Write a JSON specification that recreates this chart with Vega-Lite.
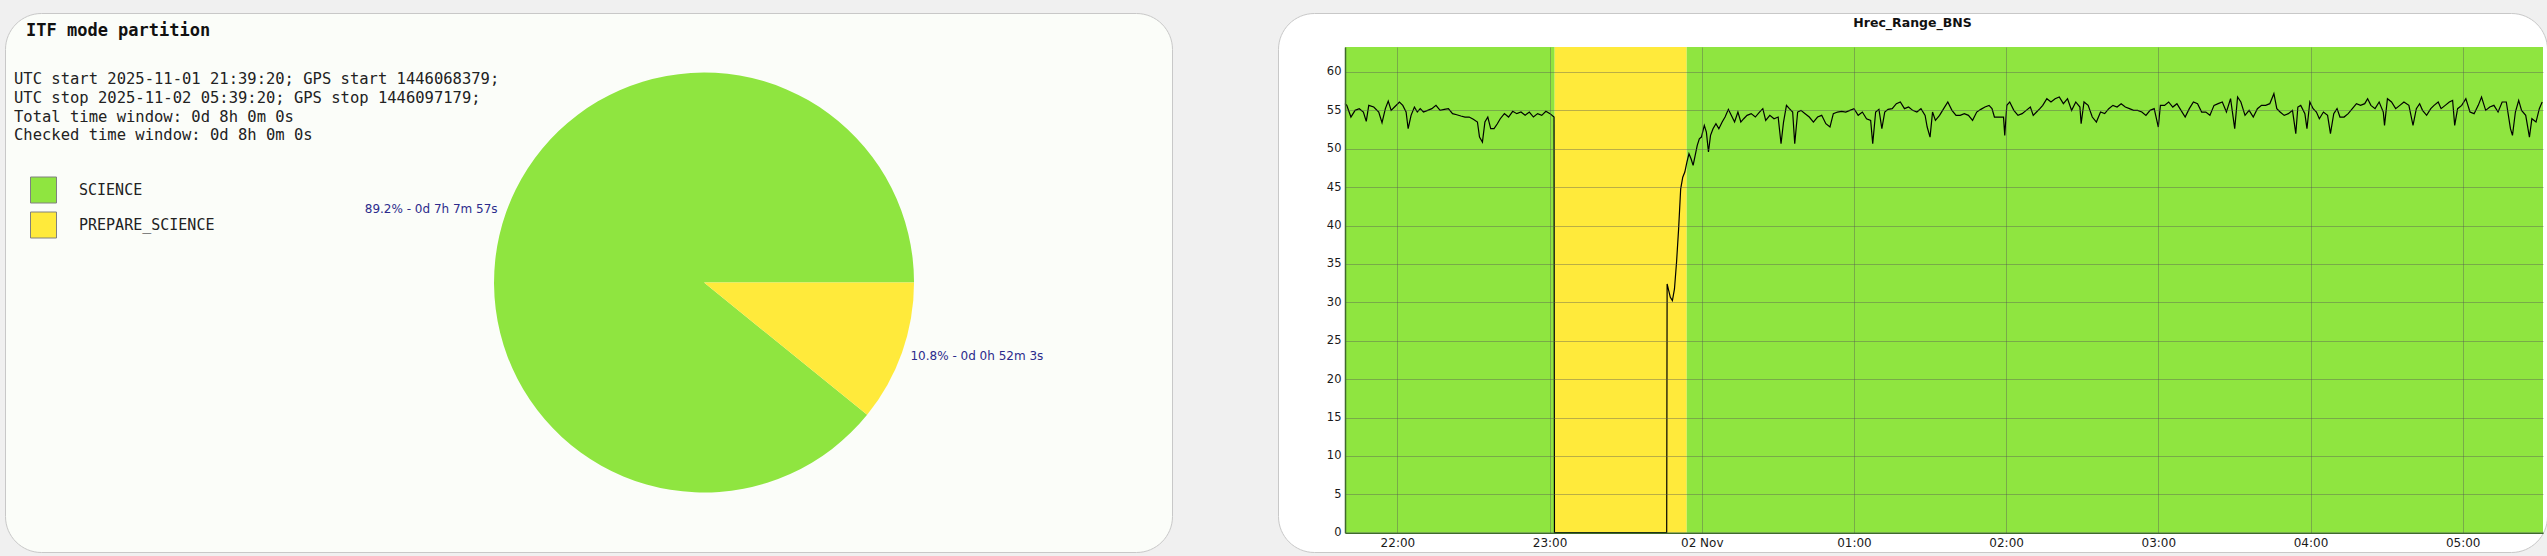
{
  "$schema": "https://vega.github.io/schema/vega-lite/v6.json",
  "background": "#f0f0f0",
  "padding": {"left": 4, "top": 12, "right": 1, "bottom": 5},
  "bounds": "flush",
  "spacing": 106,
  "config": {"font": "DejaVu Sans", "view": {"stroke": null}},
  "resolve": {"scale": {"color": "independent"}, "legend": {"color": "independent"}},
  "datasets": {
    "pie": [
      {"mode": "SCIENCE", "secs": 25677, "label": "89.2% - 0d 7h 7m 57s"},
      {"mode": "PREPARE_SCIENCE", "secs": 3123, "label": "10.8% - 0d 0h 52m 3s"}
    ],
    "bands": [
      {"mode": "SCIENCE", "start": 1762033160000, "end": 1762038120000},
      {"mode": "PREPARE_SCIENCE", "start": 1762038120000, "end": 1762041243000},
      {"mode": "SCIENCE", "start": 1762041243000, "end": 1762061500000}
    ],
    "bns": [
      {"t":1762033160000,"v":55.87},{"t":1762033202000,"v":55.65},{"t":1762033300000,"v":54.13},{"t":1762033399000,"v":55.0},
      {"t":1762033497000,"v":55.22},{"t":1762033595000,"v":54.78},{"t":1762033663000,"v":53.57},{"t":1762033722000,"v":55.65},
      {"t":1762033840000,"v":55.43},{"t":1762033958000,"v":54.78},{"t":1762034036000,"v":53.39},{"t":1762034115000,"v":55.22},
      {"t":1762034183000,"v":56.22},{"t":1762034252000,"v":55.0},{"t":1762034331000,"v":55.43},{"t":1762034448000,"v":56.09},
      {"t":1762034527000,"v":55.65},{"t":1762034605000,"v":54.78},{"t":1762034654000,"v":52.61},{"t":1762034723000,"v":54.35},
      {"t":1762034802000,"v":55.43},{"t":1762034870000,"v":54.78},{"t":1762034939000,"v":55.22},{"t":1762035017000,"v":54.78},
      {"t":1762035116000,"v":55.0},{"t":1762035214000,"v":55.22},{"t":1762035312000,"v":55.65},{"t":1762035410000,"v":55.0},
      {"t":1762035508000,"v":55.13},{"t":1762035606000,"v":55.22},{"t":1762035704000,"v":54.57},{"t":1762035802000,"v":54.43},
      {"t":1762035901000,"v":54.26},{"t":1762035999000,"v":54.13},{"t":1762036097000,"v":54.13},{"t":1762036195000,"v":53.83},
      {"t":1762036293000,"v":53.48},{"t":1762036342000,"v":51.52},{"t":1762036411000,"v":50.87},{"t":1762036470000,"v":53.48},
      {"t":1762036538000,"v":54.13},{"t":1762036607000,"v":52.61},{"t":1762036686000,"v":52.61},{"t":1762036764000,"v":53.26},
      {"t":1762036833000,"v":53.91},{"t":1762036931000,"v":54.57},{"t":1762037029000,"v":54.13},{"t":1762037127000,"v":54.87},
      {"t":1762037225000,"v":54.57},{"t":1762037323000,"v":54.78},{"t":1762037421000,"v":54.35},{"t":1762037520000,"v":54.78},
      {"t":1762037618000,"v":54.13},{"t":1762037716000,"v":54.57},{"t":1762037814000,"v":54.35},{"t":1762037912000,"v":54.87},
      {"t":1762038010000,"v":54.57},{"t":1762038105000,"v":54.13},{"t":1762038115000,"v":0},{"t":1762040770000,"v":0},
      {"t":1762040780000,"v":32.4},{"t":1762040856000,"v":30.65},{"t":1762040905000,"v":30.22},{"t":1762040954000,"v":31.74},
      {"t":1762041003000,"v":35.22},{"t":1762041052000,"v":39.57},{"t":1762041101000,"v":44.78},{"t":1762041150000,"v":46.3},
      {"t":1762041199000,"v":46.96},{"t":1762041248000,"v":48.26},{"t":1762041297000,"v":49.35},{"t":1762041346000,"v":48.7},
      {"t":1762041395000,"v":47.83},{"t":1762041444000,"v":49.13},{"t":1762041493000,"v":50.43},{"t":1762041542000,"v":51.3},
      {"t":1762041591000,"v":51.52},{"t":1762041660000,"v":53.04},{"t":1762041709000,"v":52.17},{"t":1762041758000,"v":49.57},
      {"t":1762041807000,"v":51.74},{"t":1762041866000,"v":52.61},{"t":1762041935000,"v":53.26},{"t":1762042004000,"v":52.61},
      {"t":1762042082000,"v":53.48},{"t":1762042151000,"v":54.13},{"t":1762042229000,"v":55.13},{"t":1762042298000,"v":54.35},
      {"t":1762042376000,"v":53.48},{"t":1762042455000,"v":54.78},{"t":1762042524000,"v":53.48},{"t":1762042592000,"v":53.91},
      {"t":1762042671000,"v":54.35},{"t":1762042769000,"v":54.57},{"t":1762042867000,"v":54.13},{"t":1762042965000,"v":54.78},
      {"t":1762043044000,"v":55.22},{"t":1762043112000,"v":53.7},{"t":1762043210000,"v":54.35},{"t":1762043309000,"v":53.91},
      {"t":1762043407000,"v":54.13},{"t":1762043475000,"v":50.65},{"t":1762043534000,"v":53.48},{"t":1762043603000,"v":55.65},
      {"t":1762043672000,"v":55.22},{"t":1762043750000,"v":54.78},{"t":1762043799000,"v":50.65},{"t":1762043868000,"v":54.78},
      {"t":1762043946000,"v":55.0},{"t":1762044045000,"v":54.57},{"t":1762044143000,"v":54.13},{"t":1762044241000,"v":53.48},
      {"t":1762044339000,"v":54.13},{"t":1762044437000,"v":54.35},{"t":1762044535000,"v":53.26},{"t":1762044633000,"v":52.83},
      {"t":1762044712000,"v":54.57},{"t":1762044810000,"v":54.78},{"t":1762044908000,"v":54.87},{"t":1762045006000,"v":54.78},
      {"t":1762045104000,"v":55.0},{"t":1762045202000,"v":55.22},{"t":1762045300000,"v":54.35},{"t":1762045399000,"v":54.78},
      {"t":1762045497000,"v":53.91},{"t":1762045595000,"v":53.7},{"t":1762045644000,"v":50.65},{"t":1762045713000,"v":54.78},
      {"t":1762045791000,"v":55.13},{"t":1762045860000,"v":52.61},{"t":1762045928000,"v":54.78},{"t":1762046007000,"v":55.13},
      {"t":1762046105000,"v":55.22},{"t":1762046203000,"v":55.87},{"t":1762046297000,"v":56.09},{"t":1762046395000,"v":55.22},
      {"t":1762046492000,"v":55.43},{"t":1762046590000,"v":55.0},{"t":1762046688000,"v":54.78},{"t":1762046785000,"v":55.22},
      {"t":1762046883000,"v":54.35},{"t":1762046932000,"v":52.83},{"t":1762047000000,"v":51.52},{"t":1762047059000,"v":54.78},
      {"t":1762047127000,"v":53.7},{"t":1762047225000,"v":54.35},{"t":1762047322000,"v":55.22},{"t":1762047420000,"v":56.09},
      {"t":1762047518000,"v":55.0},{"t":1762047615000,"v":54.35},{"t":1762047713000,"v":54.35},{"t":1762047811000,"v":54.57},
      {"t":1762047908000,"v":54.35},{"t":1762048006000,"v":53.7},{"t":1762048104000,"v":54.78},{"t":1762048201000,"v":55.13},
      {"t":1762048299000,"v":55.43},{"t":1762048396000,"v":55.65},{"t":1762048465000,"v":55.22},{"t":1762048523000,"v":54.13},
      {"t":1762048641000,"v":54.13},{"t":1762048738000,"v":54.13},{"t":1762048767000,"v":51.74},{"t":1762048816000,"v":55.65},
      {"t":1762048885000,"v":56.09},{"t":1762048982000,"v":55.0},{"t":1762049080000,"v":54.35},{"t":1762049178000,"v":54.57},
      {"t":1762049275000,"v":55.0},{"t":1762049373000,"v":55.43},{"t":1762049441000,"v":54.35},{"t":1762049519000,"v":54.78},
      {"t":1762049598000,"v":55.22},{"t":1762049666000,"v":55.65},{"t":1762049763000,"v":56.52},{"t":1762049861000,"v":56.09},
      {"t":1762049959000,"v":56.52},{"t":1762050057000,"v":56.74},{"t":1762050154000,"v":55.87},{"t":1762050252000,"v":56.52},
      {"t":1762050349000,"v":55.0},{"t":1762050447000,"v":56.09},{"t":1762050545000,"v":55.43},{"t":1762050574000,"v":53.26},
      {"t":1762050642000,"v":56.09},{"t":1762050740000,"v":55.65},{"t":1762050838000,"v":54.13},{"t":1762050935000,"v":53.48},
      {"t":1762051033000,"v":54.78},{"t":1762051131000,"v":54.57},{"t":1762051228000,"v":55.22},{"t":1762051326000,"v":55.65},
      {"t":1762051424000,"v":55.43},{"t":1762051521000,"v":55.87},{"t":1762051619000,"v":55.43},{"t":1762051717000,"v":55.22},
      {"t":1762051814000,"v":55.0},{"t":1762051912000,"v":55.0},{"t":1762052010000,"v":54.78},{"t":1762052107000,"v":54.35},
      {"t":1762052205000,"v":55.0},{"t":1762052302000,"v":55.22},{"t":1762052400000,"v":52.83},{"t":1762052449000,"v":55.65},
      {"t":1762052547000,"v":55.65},{"t":1762052644000,"v":56.09},{"t":1762052742000,"v":55.43},{"t":1762052840000,"v":55.87},
      {"t":1762052937000,"v":55.0},{"t":1762053035000,"v":54.13},{"t":1762053133000,"v":55.22},{"t":1762053230000,"v":56.09},
      {"t":1762053328000,"v":55.87},{"t":1762053425000,"v":54.78},{"t":1762053523000,"v":54.78},{"t":1762053621000,"v":54.35},
      {"t":1762053718000,"v":55.65},{"t":1762053816000,"v":55.87},{"t":1762053914000,"v":56.09},{"t":1762054011000,"v":54.78},
      {"t":1762054109000,"v":56.52},{"t":1762054207000,"v":52.61},{"t":1762054275000,"v":56.74},{"t":1762054353000,"v":56.09},
      {"t":1762054451000,"v":54.35},{"t":1762054548000,"v":55.0},{"t":1762054646000,"v":54.13},{"t":1762054744000,"v":55.22},
      {"t":1762054841000,"v":55.65},{"t":1762054939000,"v":55.65},{"t":1762055037000,"v":55.87},{"t":1762055134000,"v":57.17},
      {"t":1762055203000,"v":55.22},{"t":1762055281000,"v":54.78},{"t":1762055378000,"v":54.35},{"t":1762055476000,"v":54.57},
      {"t":1762055574000,"v":55.0},{"t":1762055652000,"v":51.96},{"t":1762055701000,"v":55.43},{"t":1762055769000,"v":55.65},
      {"t":1762055867000,"v":54.57},{"t":1762055916000,"v":52.61},{"t":1762055984000,"v":56.09},{"t":1762056062000,"v":55.22},
      {"t":1762056140000,"v":54.78},{"t":1762056209000,"v":53.91},{"t":1762056306000,"v":54.78},{"t":1762056404000,"v":54.35},
      {"t":1762056472000,"v":51.96},{"t":1762056550000,"v":54.57},{"t":1762056628000,"v":55.22},{"t":1762056697000,"v":54.13},
      {"t":1762056794000,"v":54.13},{"t":1762056892000,"v":54.57},{"t":1762056990000,"v":55.22},{"t":1762057087000,"v":55.87},
      {"t":1762057185000,"v":55.65},{"t":1762057283000,"v":55.87},{"t":1762057351000,"v":56.52},{"t":1762057429000,"v":55.65},
      {"t":1762057527000,"v":55.22},{"t":1762057624000,"v":56.09},{"t":1762057722000,"v":54.78},{"t":1762057751000,"v":53.04},
      {"t":1762057820000,"v":56.52},{"t":1762057917000,"v":56.09},{"t":1762058015000,"v":55.22},{"t":1762058113000,"v":55.65},
      {"t":1762058210000,"v":56.09},{"t":1762058327000,"v":55.65},{"t":1762058425000,"v":53.04},{"t":1762058504000,"v":55.22},
      {"t":1762058582000,"v":55.87},{"t":1762058650000,"v":55.0},{"t":1762058747000,"v":54.35},{"t":1762058845000,"v":55.22},
      {"t":1762058923000,"v":55.65},{"t":1762059021000,"v":56.09},{"t":1762059089000,"v":55.22},{"t":1762059187000,"v":55.65},
      {"t":1762059284000,"v":56.09},{"t":1762059362000,"v":56.3},{"t":1762059411000,"v":53.04},{"t":1762059480000,"v":55.22},
      {"t":1762059577000,"v":55.65},{"t":1762059675000,"v":56.52},{"t":1762059773000,"v":54.78},{"t":1762059870000,"v":54.57},
      {"t":1762059968000,"v":55.65},{"t":1762060046000,"v":56.74},{"t":1762060144000,"v":55.0},{"t":1762060241000,"v":55.43},
      {"t":1762060339000,"v":55.65},{"t":1762060437000,"v":54.78},{"t":1762060534000,"v":56.09},{"t":1762060632000,"v":56.09},
      {"t":1762060730000,"v":52.61},{"t":1762060778000,"v":51.74},{"t":1762060847000,"v":54.78},{"t":1762060925000,"v":56.3},
      {"t":1762060993000,"v":55.0},{"t":1762061091000,"v":54.35},{"t":1762061179000,"v":51.52},{"t":1762061237000,"v":53.91},
      {"t":1762061335000,"v":53.48},{"t":1762061413000,"v":55.22},{"t":1762061481000,"v":56.09}
    ]
  },
  "hconcat": [
    {
      "width": 1167,
      "height": 539,
      "view": {"fill": "#fbfdf9", "stroke": "#c8c8c8", "strokeWidth": 1, "cornerRadius": 36},
      "title": {
        "text": "ITF mode partition",
        "anchor": "start",
        "frame": "group",
        "offset": -27.4,
        "dx": 21,
        "font": "DejaVu Sans Mono",
        "fontSize": 17,
        "fontWeight": "bold",
        "color": "#111111"
      },
      "data": {"name": "pie"},
      "layer": [
        {
          "mark": {"type": "arc", "outerRadius": 210},
          "encoding": {
            "x": {"datum": 0.599, "type": "quantitative", "scale": {"domain": [0, 1]}, "axis": null},
            "theta": {"field": "secs", "type": "quantitative", "stack": true, "scale": {"range": [1.5708, 7.854]}},
            "order": {"field": "mode", "type": "ordinal", "sort": "ascending"},
            "color": {
              "field": "mode",
              "type": "nominal",
              "scale": {"domain": ["SCIENCE", "PREPARE_SCIENCE"], "range": ["#8fe540", "#ffea3b"]},
              "legend": {
                "orient": "none",
                "legendX": 9,
                "legendY": 59.4,
                "title": [
                  "UTC start 2025-11-01 21:39:20; GPS start 1446068379;",
                  "UTC stop 2025-11-02 05:39:20; GPS stop 1446097179;",
                  "Total time window: 0d 8h 0m 0s",
                  "Checked time window: 0d 8h 0m 0s"
                ],
                "titleFont": "DejaVu Sans Mono",
                "titleFontSize": 15.5,
                "titleFontWeight": "normal",
                "titleColor": "#222222",
                "titleLineHeight": 18.7,
                "titlePadding": 32.5,
                "titleLimit": 800,
                "titleAnchor": "start",
                "padding": 0,
                "symbolType": "square",
                "symbolSize": 676,
                "symbolOffset": 16,
                "symbolStrokeColor": "#808080",
                "symbolStrokeWidth": 1,
                "symbolOpacity": 1,
                "labelFont": "DejaVu Sans Mono",
                "labelFontSize": 15,
                "labelColor": "#222222",
                "labelOffset": 22,
                "rowPadding": 4,
                "labelLimit": 300,
                "encode": {"symbols": {"update": {"stroke": {"value": "#808080"}, "strokeWidth": {"value": 1}}}}
              }
            }
          }
        },
        {
          "mark": {
            "type": "text",
            "radius": 219,
            "font": "DejaVu Sans",
            "fontSize": 12,
            "color": "#2b2b8c",
            "baseline": "middle",
            "align": {"expr": "datum.mode == 'SCIENCE' ? 'right' : 'left'"}
          },
          "encoding": {
            "x": {"datum": 0.599, "type": "quantitative"},
            "theta": {"field": "secs", "type": "quantitative", "stack": true},
            "order": {"field": "mode", "type": "ordinal", "sort": "ascending"},
            "detail": {"field": "mode"},
            "text": {"field": "label"}
          }
        }
      ]
    },
    {
      "width": 1269,
      "height": 539,
      "view": {"fill": "#ffffff", "stroke": "#c8c8c8", "strokeWidth": 1, "cornerRadius": 36},
      "title": {
        "text": "Hrec_Range_BNS",
        "anchor": "middle",
        "frame": "group",
        "offset": -16.5,
        "font": "DejaVu Sans",
        "fontSize": 12.5,
        "fontWeight": "bold",
        "color": "#111111"
      },
      "resolve": {"axis": {"x": "independent"}},
      "layer": [
        {
          "data": {"name": "bands"},
          "mark": {"type": "rect"},
          "encoding": {
            "x": {
              "field": "start",
              "type": "temporal",
              "scale": {"type": "utc", "domain": [1762033160000, 1762061500000], "range": [67, 1265], "nice": false},
              "axis": {
                "orient": "top",
                "grid": true,
                "labels": false,
                "ticks": false,
                "domain": false,
                "title": null,
                "values": [1762034400000, 1762038000000, 1762041600000, 1762045200000, 1762048800000, 1762052400000, 1762056000000, 1762059600000],
                "gridColor": "#555555",
                "gridOpacity": 0.4,
                "zindex": 1
              }
            },
            "x2": {"field": "end"},
            "y": {"datum": 0, "type": "quantitative"},
            "y2": {"datum": 63.25},
            "color": {
              "field": "mode",
              "type": "nominal",
              "scale": {"domain": ["SCIENCE", "PREPARE_SCIENCE"], "range": ["#8fe540", "#ffea3b"]},
              "legend": null
            }
          }
        },
        {
          "data": {"name": "bns"},
          "mark": {"type": "line", "color": "#000000", "strokeWidth": 1.2},
          "encoding": {
            "x": {
              "field": "t",
              "type": "temporal",
              "axis": {
                "orient": "bottom",
                "grid": false,
                "offset": -19.3,
                "values": [1762034400000, 1762038000000, 1762041600000, 1762045200000, 1762048800000, 1762052400000, 1762056000000, 1762059600000],
                "labelExpr": "utchours(datum.value) == 0 ? utcFormat(datum.value, '%d %b') : utcFormat(datum.value, '%H:%M')",
                "ticks": false,
                "domain": true,
                "domainColor": "#3f6a2d",
                "domainWidth": 1.5,
                "labelFont": "DejaVu Sans",
                "labelFontSize": 12,
                "labelColor": "#1a1a1a",
                "labelPadding": 5,
                "labelOverlap": false,
                "labelFlush": false,
                "title": null,
                "zindex": 1
              }
            },
            "y": {
              "field": "v",
              "type": "quantitative",
              "scale": {"domain": [0, 63.25], "range": [519.7, 34], "nice": false, "zero": false},
              "axis": {
                "orient": "left",
                "offset": -67,
                "values": [0, 5, 10, 15, 20, 25, 30, 35, 40, 45, 50, 55, 60],
                "grid": true,
                "gridColor": "#555555",
                "gridOpacity": 0.4,
                "ticks": false,
                "domain": true,
                "domainColor": "#3f6a2d",
                "domainWidth": 1.5,
                "labelFont": "DejaVu Sans",
                "labelFontSize": 11.5,
                "labelColor": "#1a1a1a",
                "labelPadding": 4,
                "title": null,
                "zindex": 1
              }
            }
          }
        }
      ]
    }
  ]
}
